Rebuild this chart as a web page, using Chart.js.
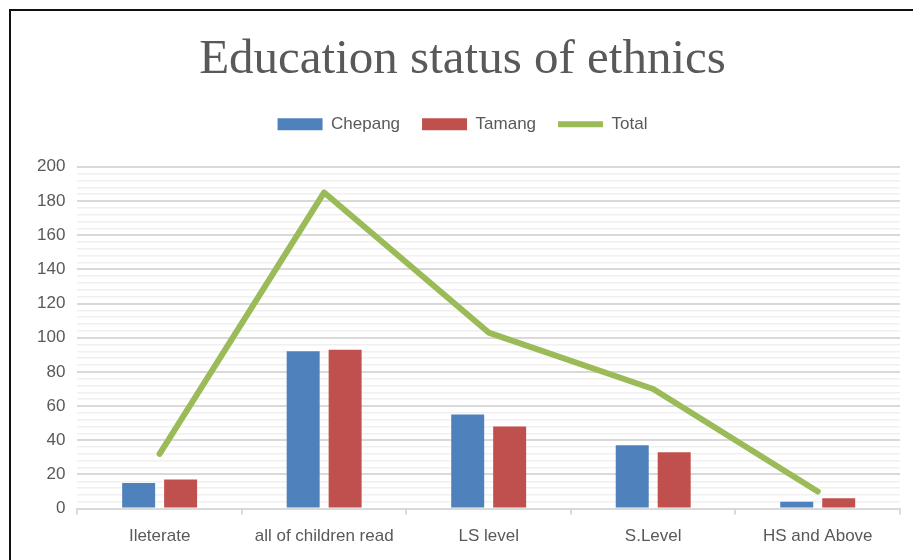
<!DOCTYPE html>
<html>
<head>
<meta charset="utf-8">
<script src="https://cdn.jsdelivr.net/npm/chart.js@4"></script>
<style>
    html, body { margin: 0; padding: 0; background: #fff; }
    #wrap { position: relative; width: 913px; height: 560px; }
    #frame {
        position: absolute; left: 9px; top: 9px; right: -5px; bottom: -5px;
        border-top: 2px solid #111; border-left: 2px solid #111;
        pointer-events: none;
    }
</style>
</head>
<body>
<div id="wrap">
    <canvas id="eduChart" width="913" height="560"></canvas>
    <div id="frame"></div>
</div>
<script>
// Chart data
const categories = ['Ileterate', 'all of children read', 'LS level', 'S.Level', 'HS and Above'];
const chepang = [15, 92, 55, 37, 4];
const tamang = [17, 93, 48, 33, 6];
const total = [32, 185, 103, 70, 10];
const yTicks = [0, 20, 40, 60, 80, 100, 120, 140, 160, 180, 200];

const textColor = '#595959';

// leave some room between the legend and the plot
const legendGap = {
    id: 'legendGap',
    beforeInit(chart) {
        const fit = chart.legend.fit;
        chart.legend.fit = function () {
            fit.bind(chart.legend)();
            this.height += 24;
        };
    }
};

const ctx = document.getElementById('eduChart').getContext('2d');
new Chart(ctx, {
    type: 'bar',
    data: {
        labels: categories,
        datasets: [
            {
                label: 'Chepang',
                data: chepang,
                backgroundColor: '#4F81BD',
                borderWidth: 0,
                pointStyle: 'rect',
                barPercentage: 0.786,
                categoryPercentage: 0.51
            },
            {
                label: 'Tamang',
                data: tamang,
                backgroundColor: '#C0504D',
                borderWidth: 0,
                pointStyle: 'rect',
                barPercentage: 0.786,
                categoryPercentage: 0.51
            },
            {
                type: 'line',
                label: 'Total',
                data: total,
                borderColor: '#9BBB59',
                backgroundColor: '#9BBB59',
                borderWidth: 6,
                borderCapStyle: 'round',
                borderJoinStyle: 'round',
                pointRadius: 0,
                pointStyle: 'line',
                tension: 0
            }
        ]
    },
    options: {
        responsive: false,
        animation: false,
        layout: { padding: { left: 25, right: 13, top: 31, bottom: 1 } },
        plugins: {
            tooltip: { enabled: false },
            title: {
                display: true,
                text: 'Education status of ethnics',
                color: textColor,
                font: { family: 'Liberation Serif', size: 49, weight: 'normal' },
                padding: { top: 0, bottom: 4 }
            },
            legend: {
                position: 'top',
                labels: {
                    color: textColor,
                    font: { family: 'Liberation Sans', size: 17 },
                    usePointStyle: true,
                    pointStyleWidth: 45,
                    boxHeight: 12,
                    padding: 22
                }
            }
        },
        scales: {
            x: {
                grid: {
                    display: true,
                    drawOnChartArea: false,
                    drawTicks: true,
                    tickLength: 6,
                    color: '#d9d9d9',
                    lineWidth: 2
                },
                border: { display: true, color: '#d9d9d9', width: 2 },
                ticks: {
                    color: textColor,
                    font: { family: 'Liberation Sans', size: 17 },
                    padding: 12,
                    maxRotation: 0
                }
            },
            y: {
                min: 0,
                max: 200,
                border: { display: false },
                grid: {
                    drawTicks: false,
                    color: (c) => (c.tick && yTicks.includes(c.tick.value)) ? '#d9d9d9' : '#f0f0f0',
                    lineWidth: (c) => (c.tick && yTicks.includes(c.tick.value)) ? 2 : 1.5
                },
                ticks: {
                    stepSize: 4,
                    autoSkip: false,
                    color: textColor,
                    font: { family: 'Liberation Sans', size: 17 },
                    padding: 12,
                    callback: (v) => yTicks.includes(v) ? v : ''
                }
            }
        }
    },
    plugins: [legendGap]
});
</script>
</body>
</html>
